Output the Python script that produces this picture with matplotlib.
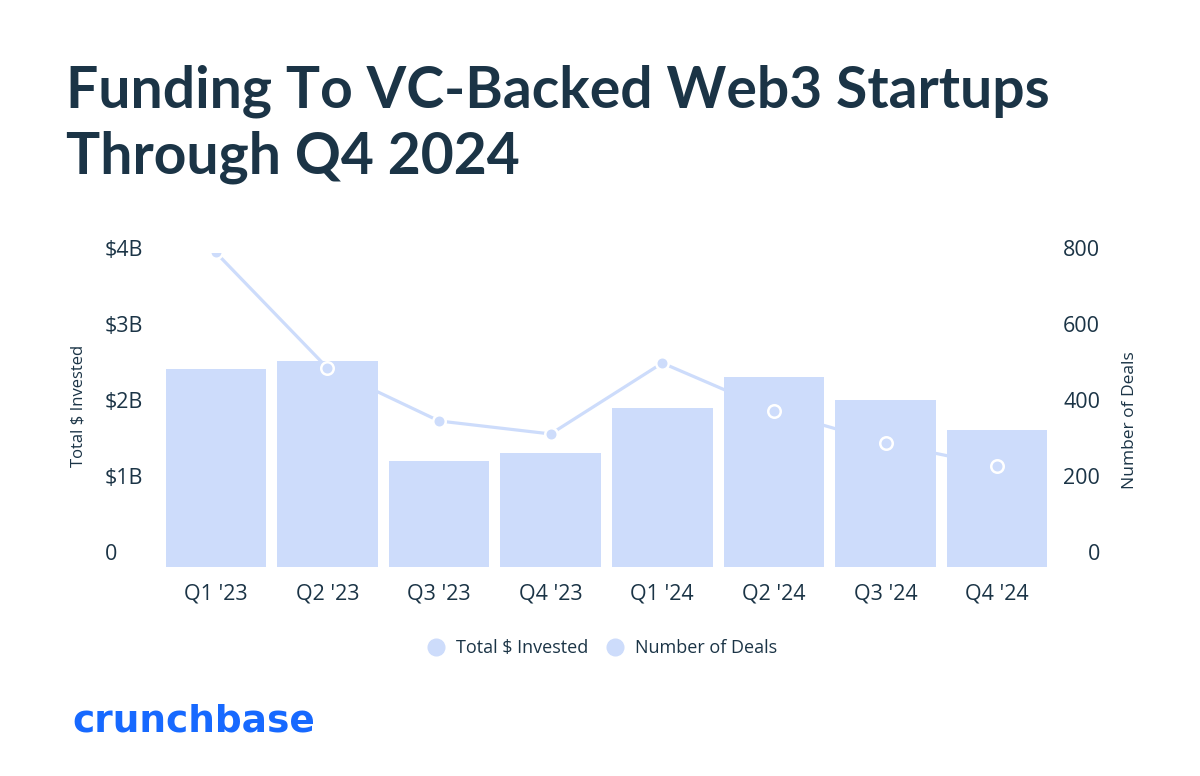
import matplotlib
matplotlib.use("Agg")
import matplotlib.pyplot as plt
from matplotlib.lines import Line2D

quarters = ["Q1 '23", "Q2 '23", "Q3 '23", "Q4 '23", "Q1 '24", "Q2 '24", "Q3 '24", "Q4 '24"]
invested_b = [2.60, 2.70, 1.39, 1.50, 2.09, 2.49, 2.19, 1.80]
deals = [825, 522, 383, 349, 535, 409, 325, 265]

left_ticks = [0, 1, 2, 3, 4]
left_labels = ["0", "$1B", "$2B", "$3B", "$4B"]
right_ticks = [0, 200, 400, 600, 800]
right_labels = ["0", "200", "400", "600", "800"]

BAR = "#cddcfb"
DARK = "#1b3446"
BLUE = "#1769ff"
SMALL = ['Open Sans', 'DejaVu Sans']

plt.rcParams['font.family'] = ['Lato', 'DejaVu Sans']


def main():
    fig = plt.figure(figsize=(12, 7.76), dpi=100)
    fig.patch.set_facecolor("white")

    ax = fig.add_axes([160 / 1200, 1 - 567 / 776, 893 / 1200, 314 / 776])
    ax2 = ax.twinx()

    x = list(range(len(quarters)))
    ymax = 314 / 76.25
    ax.set_ylim(0, ymax)
    ax2.set_ylim(0, ymax * 200)
    ax.set_xlim(-0.5, len(quarters) - 0.5)

    # line behind the bars, markers on top
    ax.set_zorder(2)
    ax2.set_zorder(1)
    ax.patch.set_visible(False)
    ax2.plot(x, deals, color=BAR, lw=2.3, zorder=1, clip_on=True)
    ax.bar(x, invested_b, width=0.9, color=BAR, zorder=2)
    ax3 = ax.twinx()
    ax3.set_zorder(3)
    ax3.set_ylim(0, ymax * 200)
    ax3.plot(x, deals, linestyle="none", marker="o", ms=9, mfc=BAR,
             mec="white", mew=1.8, zorder=4)

    for a in (ax, ax2, ax3):
        for s in a.spines.values():
            s.set_visible(False)
        a.set_yticks([])
        a.tick_params(length=0)

    ax.set_xticks(x)
    ax.set_xticklabels(quarters, fontsize=15.5, color=DARK, family=SMALL)
    ax.tick_params(axis="x", pad=12)

    for v, lab in zip(left_ticks, left_labels):
        ax.annotate(lab, xy=(0, v), xycoords=("axes fraction", "data"),
                    xytext=(-55, 12), textcoords="offset pixels",
                    ha="left", va="center", fontsize=15.5, color=DARK, family=SMALL)
    for v, lab in zip(right_ticks, right_labels):
        ax2.annotate(lab, xy=(1, v), xycoords=("axes fraction", "data"),
                     xytext=(47, 12), textcoords="offset pixels",
                     ha="right", va="center", fontsize=15.5, color=DARK, family=SMALL)

    fig.text(78 / 1200, 1 - 406 / 776, "Total $ Invested", rotation=90,
             ha="center", va="center", fontsize=12, color=DARK, family=SMALL)
    fig.text(1130 / 1200, 1 - 420 / 776, "Number of Deals", rotation=90,
             ha="center", va="center", fontsize=12.5, color=DARK, family=SMALL)

    fig.text(66 / 1200, 1 - 107 / 776, "Funding To VC-Backed Web3 Startups",
             fontsize=41, fontweight="bold", color=DARK, va="baseline")
    fig.text(66 / 1200, 1 - 173 / 776, "Through Q4 2024",
             fontsize=41, fontweight="bold", color=DARK, va="baseline")

    handles = [Line2D([], [], linestyle="none", marker="o", ms=12, mfc=BAR, mec=BAR),
               Line2D([], [], linestyle="none", marker="o", ms=12, mfc=BAR, mec=BAR)]
    fig.legend(handles, ["Total $ Invested", "Number of Deals"], loc="center",
               bbox_to_anchor=(602 / 1200, 1 - 648 / 776), ncol=2, frameon=False,
               prop={"family": SMALL, "size": 13}, labelcolor=DARK,
               handletextpad=0.6, columnspacing=1.0, handlelength=1.0)

    fig.text(72 / 1200, 1 - 732 / 776, "crunchbase", fontsize=27,
             fontweight="bold", color=BLUE, va="baseline", family=["DejaVu Sans"])

    fig.savefig("out.png", dpi=100, facecolor="white")


if __name__ == "__main__":
    main()
